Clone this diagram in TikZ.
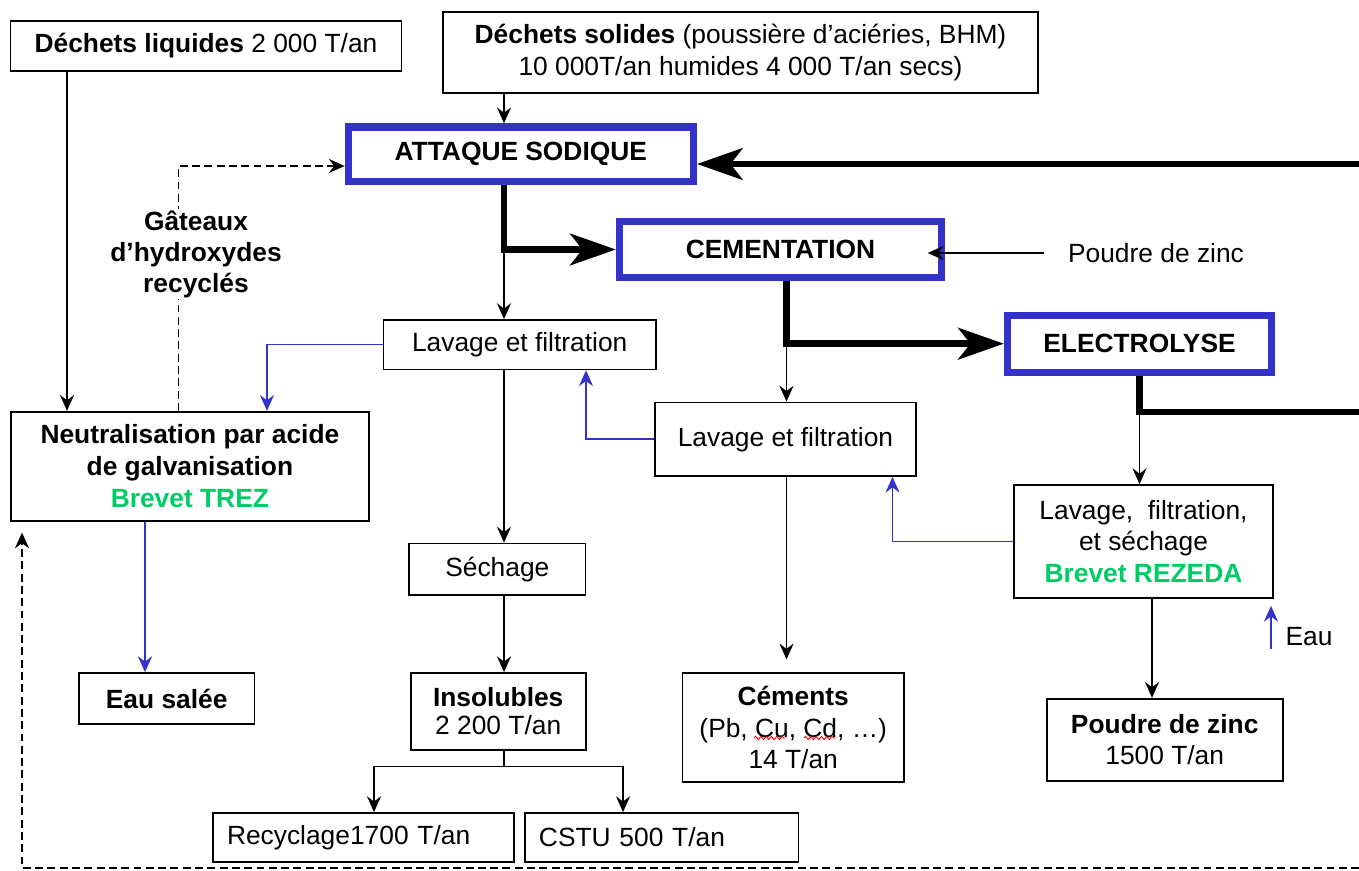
\documentclass[tikz,border=0pt]{standalone}
\usepackage{fontspec}
\setmainfont{Liberation Sans}
\usetikzlibrary{arrows.meta}
\usetikzlibrary{decorations.pathmorphing}
\definecolor{procbleu}{RGB}{51,51,204}
\definecolor{brevet}{RGB}{0,204,102}
\tikzset{
  boite/.style={draw, line width=1pt, align=center, inner sep=0pt, font=\fontsize{15}{18}\selectfont},
  etape/.style={draw=procbleu, line width=4.2pt, inner sep=0pt, font=\bfseries\fontsize{15}{18}\selectfont},
  fleche/.style={line width=0.85pt, -{Stealth[length=9pt,width=8pt,inset=3pt]}},
  flux/.style={line width=3.8pt, -{Stealth[length=26pt,width=18pt,inset=7pt]}},
  fbleu/.style={fleche, draw=procbleu},
  tirets/.style={fleche, dash pattern=on 4.5pt off 2.5pt},
  vague/.style={red, line width=0.5pt, decorate, decoration={snake, amplitude=0.9pt, segment length=3pt}},
}
\begin{document}
\begin{tikzpicture}[line join=miter,x=0.02cm,y=-0.02cm]
  \useasboundingbox (0,0) rectangle (1359,871);
  % entrees
  \node[boite, minimum width=7.82cm, minimum height=1cm] (liq) at (206,46) {\textbf{Déchets liquides} 2 000 T/an};
  \node[boite, minimum width=11.9cm, minimum height=1.63cm] (sol) at (740.5,52.5) {\textbf{Déchets solides} (poussière d'aciéries, BHM)\\10 000T/an humides 4 000 T/an secs)};
  % etapes principales
  \node[etape, minimum width=6.9cm, minimum height=1.09cm] (att) at (520.8,154.2) {ATTAQUE SODIQUE};
  \node[etape, minimum width=6.44cm, minimum height=1.11cm] (cem) at (780.5,249.5) {CEMENTATION};
  \node[etape, minimum width=5.28cm, minimum height=1.14cm] (ele) at (1139.5,343.7) {ELECTROLYSE};
  % traitements
  \node[boite, minimum width=5.45cm, minimum height=0.99cm] (lav1) at (519.7,344.7) {Lavage et filtration};
  \node[boite, minimum width=7.16cm, minimum height=2.18cm] (neut) at (189.9,466.2) {\textbf{Neutralisation par acide}\\\textbf{de galvanisation}\\\textcolor{brevet}{\textbf{Brevet TREZ}}};
  \node[boite, minimum width=5.22cm, minimum height=1.47cm] (lav2) at (785.5,439.2) {Lavage et filtration};
  \node[boite, minimum width=5.18cm, minimum height=2.26cm] (lav3) at (1143.5,541.5) {Lavage,\ \ filtration,\\et séchage\\\textcolor{brevet}{\textbf{Brevet REZEDA}}};
  \node[boite, minimum width=3.53cm, minimum height=1.03cm] (sech) at (497.3,569.2) {Séchage};
  % sorties
  \node[boite, minimum width=3.51cm, minimum height=1.02cm] (eau) at (166.7,698.5) {\textbf{Eau salée}};
  \node[boite, minimum width=3.5cm, minimum height=1.54cm] (ins) at (498.2,711.5) {\textbf{Insolubles}\\[-2pt]2 200 T/an};
  \node[boite, minimum width=4.43cm, minimum height=2.18cm] (cim) at (793.2,727.8) {\textbf{Céments}\\(Pb, Cu, Cd, …)\\14 T/an};
  \node[boite, minimum width=4.72cm, minimum height=1.64cm] (pz) at (1164.7,739.7) {\textbf{Poudre de zinc}\\1500 T/an};
  \node[boite, align=left, text width=5.46cm, inner xsep=0.28cm, minimum height=0.98cm] (rec) at (363.5,837.5) {Recyclage1700 T/an};
  \node[boite, align=left, text width=4.91cm, inner xsep=0.28cm, minimum height=0.98cm] (cstu) at (661.7,837.5) {CSTU 500 T/an};
  % etiquettes
  \node[font=\fontsize{15}{18}\selectfont] (pzlabel) at (1156,253) {Poudre de zinc};
  \node[font=\fontsize{15}{18}\selectfont] (eaulabel) at (1309,636.5) {Eau};
  % colonnes et points de passage
  \coordinate (colliq) at (67,0);
  \coordinate (coleau) at (145,0);
  \coordinate (colbl1) at (267,0);
  \coordinate (colrec) at (374,0);
  \coordinate (colA) at (504,0);
  \coordinate (colbl2) at (586,0);
  \coordinate (colcstu) at (623,0);
  \coordinate (colB) at (786.5,0);
  \coordinate (colbl3) at (892.5,0);
  \coordinate (colC) at (1139.5,0);
  \coordinate (colpz) at (1152,0);
  \coordinate (coude) at (178.6,166);
  \coordinate (retour) at (1359,164);
  \coordinate (sortie) at (1359,412);
  \coordinate (bif) at (504,766.7);
  \coordinate (recirc) at (1359,868);
  \coordinate (pied) at (22,868);
  \coordinate (eaupied) at (1271,649);
  % flux principal
  \draw[flux] (retour) -- (retour -| att.east);
  \draw[flux] (att.south -| colA) |- (cem.west);
  \draw[flux] (cem.south -| colB) |- (ele.west);
  \draw[line width=3.8pt] (ele.south -| colC) |- (sortie);
  % fleches simples
  \draw[fleche, line width=1.6pt] (liq.south -| colliq) -- (neut.north -| colliq);
  \draw[fleche] (sol.south -| colA) -- (att.north -| colA);
  \draw[fleche] (cem.west -| colA) -- (lav1.north -| colA);
  \draw[fleche] (ele.west -| colB) -- (lav2.north -| colB);
  \draw[fleche] (sortie -| colC) -- (lav3.north -| colC);
  \draw[fleche] ([xshift=-0.35cm]pzlabel.west) -- ([xshift=-0.35cm]pzlabel.west -| cem.east);
  \draw[fleche] (lav1.south -| colA) -- (sech.north -| colA);
  \draw[fleche] (sech.south -| colA) -- (ins.north -| colA);
  \draw[line width=0.85pt] (ins.south -| bif) -- (bif);
  \draw[fleche] (bif) -| (rec.north -| colrec);
  \draw[fleche] (bif) -| (cstu.north -| colcstu);
  \draw[fleche, shorten >=0.26cm] (lav2.south -| colB) -- (cim.north -| colB);
  \draw[fleche] (lav3.south -| colpz) -- (pz.north -| colpz);
  % eaux de lavage
  \draw[fbleu] (lav1.west) -| (neut.north -| colbl1);
  \draw[fbleu] (lav2.west) -| (lav1.south -| colbl2);
  \draw[fbleu] (lav3.west) -| (lav2.south -| colbl3);
  \draw[fbleu] (neut.south -| coleau) -- (eau.north -| coleau);
  \draw[fbleu, shorten >=0.14cm] (eaupied) -- (eaupied |- lav3.south);
  % recyclages
  \draw[tirets] (neut.north -| coude) -- (coude) -- (coude -| att.west);
  \draw[tirets, shorten >=0.22cm] (recirc) -- (pied) -- (pied |- neut.south);
  \node[font=\bfseries\fontsize{15}{17.6}\selectfont, align=center, fill=white, inner sep=1pt] (gat) at (196,254) {Gâteaux\\d’hydroxydes\\recyclés};
  % soulignements
  \draw[vague] (754,738) -- (786,738);
  \draw[vague] (804,738) -- (836,738);
\end{tikzpicture}
\end{document}
